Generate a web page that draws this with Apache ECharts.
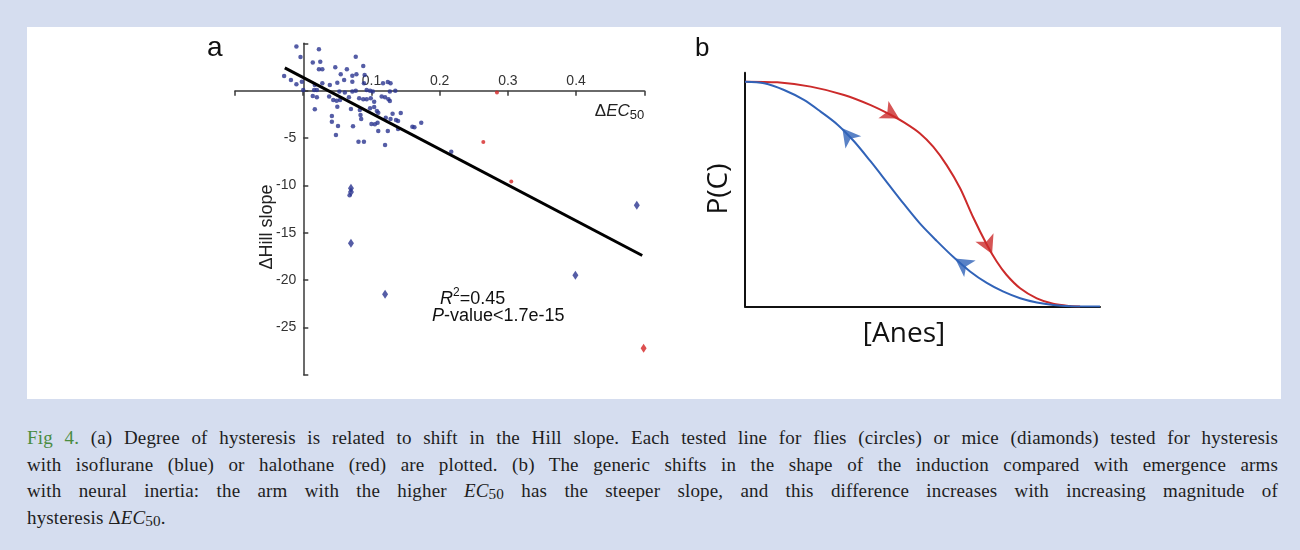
<!DOCTYPE html>
<html>
<head>
<meta charset="utf-8">
<script src="https://cdn.jsdelivr.net/npm/echarts@6/dist/echarts.min.js"></script>
<style>
  html, body { margin: 0; padding: 0; }
  body { width: 1300px; height: 550px; background: #d5ddef; position: relative; overflow: hidden; }
  #panel { position: absolute; left: 27px; top: 27px; width: 1254px; height: 372px; background: #fff; }
  #chart { position: absolute; left: 0; top: 0; width: 1300px; height: 400px; }
  #caption { position: absolute; left: 27px; top: 425px; width: 1251px;
    font-family: "Liberation Serif", serif; font-size: 19px; line-height: 26.7px; color: #1e1e1e;
    letter-spacing: 0.15px; }
  #caption .ln { text-align: justify; text-align-last: justify; }
  #caption .fig { color: #4a8c3f; }
  #caption sub { font-size: 0.8em; vertical-align: -0.15em; line-height: 0; }
</style>
</head>
<body>
<div id="panel"></div>
<div id="chart"></div>
<div id="caption">
  <div class="ln"><span class="fig">Fig 4.</span> (a) Degree of hysteresis is related to shift in the Hill slope. Each tested line for flies (circles) or mice (diamonds) tested for hysteresis</div>
  <div class="ln">with isoflurane (blue) or halothane (red) are plotted. (b) The generic shifts in the shape of the induction compared with emergence arms</div>
  <div class="ln">with neural inertia: the arm with the higher <i>EC</i><sub>50</sub> has the steeper slope, and this difference increases with increasing magnitude of</div>
  <div>hysteresis Δ<i>EC</i><sub>50</sub>.</div>
</div>
<script>
// panel a: ΔEC50 vs ΔHill slope
const fliesIsoflurane = [
  [-0.010, 4.65], [0.023, 4.37], [-0.004, 3.55], [0.014, 2.96], [0.025, 3.06], [0.077, 3.59],
  [0.023, 2.26], [0.028, 2.26], [0.047, 2.47], [0.064, 2.26], [0.088, 2.61], [-0.028, 1.55],
  [-0.018, 1.13], [0.055, 1.73], [0.072, 1.58], [0.078, 1.73], [0.090, 1.66], [-0.002, 0.95],
  [-0.010, 0.67], [0.017, 0.60], [0.028, 0.78], [0.039, 0.60], [0.050, 0.84], [0.060, 1.13],
  [0.072, 0.95], [0.089, 0.78], [0.117, 0.78], [0.124, 0.92], [0.128, 0.78], [0.000, 0.07],
  [0.016, 0.07], [0.020, 0.07], [0.053, -0.10], [0.061, -0.20], [0.072, -0.10], [0.077, 0.00],
  [0.093, 0.07], [0.098, 0.00], [0.102, -0.10], [0.127, -0.10], [0.135, 0.00],
  [0.014, -0.56], [0.020, -0.70], [0.038, -0.63], [0.044, -0.98], [0.049, -1.06], [0.054, -0.98],
  [0.067, -0.70], [0.082, -0.80], [0.088, -0.90], [0.093, -0.90], [0.099, -0.80], [0.104, -1.16],
  [0.115, -0.63], [0.120, -0.70], [0.125, -0.90], [0.127, -1.10], [0.017, -1.96], [0.050, -1.69],
  [0.070, -1.93], [0.083, -2.04], [0.084, -2.57], [0.085, -2.99], [0.098, -1.86], [0.104, -1.72],
  [0.108, -2.14], [0.110, -2.32], [0.042, -2.67], [0.042, -3.27], [0.051, -3.73], [0.048, -4.68],
  [0.073, -3.75], [0.100, -3.52], [0.105, -3.55], [0.109, -3.38], [0.110, -4.25], [0.121, -2.85],
  [0.128, -2.99], [0.131, -2.45], [0.143, -2.35], [0.136, -3.10], [0.139, -3.20], [0.139, -4.05],
  [0.124, -4.26], [0.160, -3.80], [0.163, -3.87], [0.173, -3.40], [0.081, -5.39], [0.089, -5.39],
  [0.120, -5.73], [0.217, -6.44], [0.068, -11.05]
];
const fliesHalothane = [[0.284, -0.2], [0.264, -5.42], [0.305, -9.6]];
const miceIsoflurane = [[0.070, -10.3], [0.070, -10.7], [0.070, -16.1], [0.120, -21.5], [0.399, -19.5], [0.489, -12.1]];
const miceHalothane = [[0.499, -27.2]];
const fitLine = [[-0.027, 2.4], [0.497, -17.4]];
const xTickLabels = ['0.1', '0.2', '0.3', '0.4'];
const yTickLabels = ['-5', '-10', '-15', '-20', '-25'];

// panel b: induction (red) and emergence (blue) arms
const inductionArm = [
  [0, 100], [9.1, 99.7], [18.5, 97.8], [27.9, 94.1], [35.4, 89.6], [41.0, 85.3], [44.8, 81.9],
  [49.3, 77.0], [53.0, 71.1], [56.8, 62.9], [60.6, 52.6], [64.3, 39.6], [68.1, 27.6], [70.9, 20.0],
  [73.7, 14.0], [77.5, 8.1], [82.2, 3.6], [86.8, 1.2], [91.5, 0.2], [94.4, 0]
];
const emergenceArm = [
  [0, 100], [5.4, 99.3], [11.0, 96.3], [16.6, 91.9], [21.3, 86.7], [26.0, 81.0], [30.7, 73.5],
  [35.4, 64.5], [40.1, 55.0], [44.8, 45.5], [49.5, 36.5], [54.0, 29.2], [58.7, 22.0], [63.4, 15.6],
  [68.1, 10.5], [72.8, 6.6], [77.5, 3.7], [82.2, 1.8], [86.8, 0.7], [91.5, 0.15], [100, 0]
];
const inductionArrows = [[43.4, 83.6, -120], [69.6, 23.4, -155]];
const emergenceArrows = [[27.4, 79.3, 38], [59.2, 21.4, 55]];

const blue = '#2b3590';
const red = '#d42424';
const redB = '#cc2b2b';
const blueB = '#3163b8';
const axisCol = '#3a3a3a';
const sans = 'Liberation Sans, Arial, sans-serif';

const chart = echarts.init(document.getElementById('chart'));

const arrowItems = list => list.map(a => ({ value: [a[0], a[1]], symbolRotate: a[2] }));

chart.setOption({
  animation: false,
  textStyle: { fontFamily: sans },
  grid: [
    { left: 235, top: 43.3, width: 409.3, height: 331.5 },
    { left: 745, top: 72.7, width: 355, height: 233.8 }
  ],
  xAxis: [
    {
      type: 'value', gridIndex: 0, min: -0.1, max: 0.5, interval: 0.1, position: 'top', offset: -47.4,
      axisLine: { onZero: false, lineStyle: { color: axisCol, width: 1.5 } },
      axisTick: { inside: true, length: 5, lineStyle: { color: axisCol, width: 1.5 } },
      axisLabel: {
        margin: 3, color: '#333', fontSize: 14, fontFamily: sans,
        formatter: v => { const s = v.toFixed(1); return xTickLabels.includes(s) ? s : ''; }
      },
      splitLine: { show: false },
      name: '{d|Δ}{i|EC}{s|50}', nameLocation: 'end', nameGap: 0,
      nameTextStyle: {
        align: 'right', verticalAlign: 'top', padding: [10, 0, 0, 0],
        rich: {
          d: { fontSize: 17, color: '#222', fontFamily: sans },
          i: { fontSize: 17, color: '#222', fontStyle: 'italic', fontFamily: sans },
          s: { fontSize: 13, color: '#222', fontFamily: sans, padding: [8, 0, 0, 0] }
        }
      }
    },
    {
      type: 'value', gridIndex: 1, min: 0, max: 100,
      axisLine: { onZero: false, lineStyle: { color: '#111', width: 2 } },
      axisTick: { show: false }, axisLabel: { show: false }, splitLine: { show: false }
    }
  ],
  yAxis: [
    {
      type: 'value', gridIndex: 0, min: -30, max: 5, interval: 5, offset: -68.3,
      axisLine: { show: true, onZero: false, lineStyle: { color: axisCol, width: 1.5 } },
      axisTick: { show: true, inside: true, length: 5, lineStyle: { color: axisCol, width: 1.5 } },
      axisLabel: {
        margin: 7, color: '#333', fontSize: 14, fontFamily: sans,
        formatter: v => { const s = String(v); return yTickLabels.includes(s) ? s : ''; }
      },
      splitLine: { show: false }
    },
    {
      type: 'value', gridIndex: 1, min: 0, max: 104,
      axisLine: { show: true, onZero: false, lineStyle: { color: '#111', width: 2 } },
      axisTick: { show: false }, axisLabel: { show: false }, splitLine: { show: false }
    }
  ],
  series: [
    {
      type: 'scatter', xAxisIndex: 0, yAxisIndex: 0, data: fliesIsoflurane,
      symbol: 'circle', symbolSize: 4.5, itemStyle: { color: blue }, z: 3
    },
    {
      type: 'scatter', xAxisIndex: 0, yAxisIndex: 0, data: fliesHalothane,
      symbol: 'circle', symbolSize: 4, itemStyle: { color: red }, z: 3
    },
    {
      type: 'scatter', xAxisIndex: 0, yAxisIndex: 0, data: miceIsoflurane,
      symbol: 'diamond', symbolSize: [6, 9], itemStyle: { color: blue }, z: 3
    },
    {
      type: 'scatter', xAxisIndex: 0, yAxisIndex: 0, data: miceHalothane,
      symbol: 'diamond', symbolSize: [6, 9], itemStyle: { color: red }, z: 3
    },
    {
      type: 'line', xAxisIndex: 0, yAxisIndex: 0, data: fitLine, showSymbol: false, symbol: 'none',
      lineStyle: { color: '#000', width: 3 }, z: 4
    },
    {
      type: 'line', xAxisIndex: 1, yAxisIndex: 1, data: inductionArm, smooth: 0.3, symbol: 'none',
      lineStyle: { color: redB, width: 2 }, z: 3
    },
    {
      type: 'line', xAxisIndex: 1, yAxisIndex: 1, data: emergenceArm, smooth: 0.3, symbol: 'none',
      lineStyle: { color: blueB, width: 2 }, z: 3
    },
    {
      type: 'scatter', xAxisIndex: 1, yAxisIndex: 1, data: arrowItems(inductionArrows),
      symbol: 'arrow', symbolSize: [15, 18], itemStyle: { color: redB }, z: 5
    },
    {
      type: 'scatter', xAxisIndex: 1, yAxisIndex: 1, data: arrowItems(emergenceArrows),
      symbol: 'arrow', symbolSize: [15, 18], itemStyle: { color: blueB }, z: 5
    }
  ],
  graphic: [
    { type: 'text', left: 207, top: 34, style: { text: 'a', font: '28px ' + sans, fill: '#111' } },
    { type: 'text', left: 695, top: 36, style: { text: 'b', font: '26px ' + sans, fill: '#111' } },
    {
      type: 'text', x: 267, y: 227, rotation: Math.PI / 2,
      style: { text: 'ΔHill slope', font: '18px ' + sans, fill: '#222', align: 'center', verticalAlign: 'middle' }
    },
    {
      type: 'text', x: 440, y: 299,
      style: {
        text: '{i|R}{s|2}{n|=0.45}', verticalAlign: 'middle',
        rich: {
          i: { fontSize: 18, fontStyle: 'italic', fontFamily: sans, fill: '#111' },
          s: { fontSize: 12, fontFamily: sans, fill: '#111', padding: [0, 0, 12, 0] },
          n: { fontSize: 18, fontFamily: sans, fill: '#111' }
        }
      }
    },
    {
      type: 'text', x: 432, y: 316,
      style: {
        text: '{i|P}{n|-value<1.7e-15}', verticalAlign: 'middle',
        rich: {
          i: { fontSize: 18, fontStyle: 'italic', fontFamily: sans, fill: '#111' },
          n: { fontSize: 18, fontFamily: sans, fill: '#111' }
        }
      }
    },
    {
      type: 'text', x: 719, y: 189, rotation: Math.PI / 2,
      style: { text: 'P(C)', font: '28px Open Sans, sans-serif', fill: '#111', align: 'center', verticalAlign: 'middle' }
    },
    {
      type: 'text', x: 904, y: 334,
      style: { text: '[Anes]', font: '28px Open Sans, sans-serif', fill: '#111', align: 'center', verticalAlign: 'middle' }
    }
  ]
});
</script>
</body>
</html>
